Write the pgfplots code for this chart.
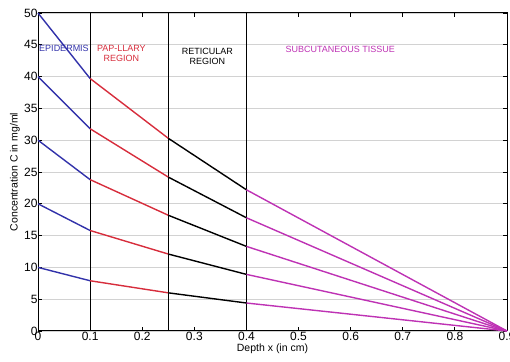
\documentclass[border=0pt]{standalone}
\usepackage{pgfplots}
\pgfplotsset{compat=1.18}
\usepackage{fontspec}
\setmainfont{Liberation Sans}
\definecolor{cblue}{RGB}{50,50,170}
\definecolor{cred}{RGB}{215,45,60}
\definecolor{cmag}{RGB}{190,50,180}
\begin{document}
\begin{tikzpicture}
\begin{axis}[
  scale only axis, width=469pt, height=318pt,
  xmin=0, xmax=0.9, ymin=0, ymax=50,
  xtick={0,0.1,...,0.9}, ytick={0,5,...,50},
  xticklabels={0,0.1,0.2,0.3,0.4,0.5,0.6,0.7,0.8,0.9},
  tick align=inside, major tick length=4pt,
  tick style={black, line width=0.8pt},
  ymajorgrids, grid style={gray!35, line width=0.9pt},
  axis line style={line width=1pt},
  /pgf/number format/assume math mode=true,
  ticklabel style={font=\fontsize{12}{13}\selectfont},
  xticklabel style={yshift=2pt},
  yticklabel style={xshift=3pt},
  xlabel={Depth x (in cm)}, ylabel={Concentration C in mg/ml},
  every axis x label/.style={at={(axis description cs:0.5,0)}, anchor=center, yshift=-18pt, font=\fontsize{10.5}{11}\selectfont},
  every axis y label/.style={at={(axis description cs:0,0.5)}, xshift=-23pt, rotate=90, anchor=center, font=\fontsize{10.5}{11}\selectfont},
  clip=false,
]
% region boundaries
\addplot[black, line width=1.1pt] coordinates {(0.1,0) (0.1,50)};
\addplot[black, line width=1.1pt] coordinates {(0.25,0) (0.25,50)};
\addplot[black, line width=1.1pt] coordinates {(0.4,0) (0.4,50)};
% epidermis
\addplot[cblue, line width=1.4pt] coordinates {(0,50) (0.1,39.7)};
\addplot[cblue, line width=1.4pt] coordinates {(0,40) (0.1,31.8)};
\addplot[cblue, line width=1.4pt] coordinates {(0,30) (0.1,23.8)};
\addplot[cblue, line width=1.4pt] coordinates {(0,20) (0.1,15.8)};
\addplot[cblue, line width=1.4pt] coordinates {(0,10) (0.1,7.9)};
% papillary
\addplot[cred, line width=1.4pt] coordinates {(0.1,39.7) (0.25,30.3)};
\addplot[cred, line width=1.4pt] coordinates {(0.1,31.8) (0.25,24.2)};
\addplot[cred, line width=1.4pt] coordinates {(0.1,23.8) (0.25,18.2)};
\addplot[cred, line width=1.4pt] coordinates {(0.1,15.8) (0.25,12.1)};
\addplot[cred, line width=1.4pt] coordinates {(0.1,7.9) (0.25,6.0)};
% reticular
\addplot[black, line width=1.4pt] coordinates {(0.25,30.3) (0.4,22.2)};
\addplot[black, line width=1.4pt] coordinates {(0.25,24.2) (0.4,17.8)};
\addplot[black, line width=1.4pt] coordinates {(0.25,18.2) (0.4,13.3)};
\addplot[black, line width=1.4pt] coordinates {(0.25,12.1) (0.4,8.9)};
\addplot[black, line width=1.4pt] coordinates {(0.25,6.0) (0.4,4.4)};
% subcutaneous
\addplot[cmag, line width=1.4pt] coordinates {(0.4,22.2) (0.9,0)};
\addplot[cmag, line width=1.4pt] coordinates {(0.4,17.8) (0.9,0)};
\addplot[cmag, line width=1.4pt] coordinates {(0.4,13.3) (0.9,0)};
\addplot[cmag, line width=1.4pt] coordinates {(0.4,8.9) (0.9,0)};
\addplot[cmag, line width=1.4pt] coordinates {(0.4,4.4) (0.9,0)};
% labels
\node[cblue, font=\fontsize{9}{10}\selectfont, anchor=west, inner sep=0pt] at (axis cs:0.002,44.4) {EPIDERMIS};
\node[cred, font=\fontsize{9}{10}\selectfont, align=center, inner sep=0pt] at (axis cs:0.16,43.6) {PAP-LLARY\\REGION};
\node[black, font=\fontsize{9}{10}\selectfont, align=center, inner sep=0pt] at (axis cs:0.325,43.2) {RETICULAR\\REGION};
\node[cmag, font=\fontsize{9}{10}\selectfont, inner sep=0pt] at (axis cs:0.58,44.3) {SUBCUTANEOUS TISSUE};
\end{axis}
\pgfresetboundingbox
\path (current axis.south west) ++(-38pt,-31pt) coordinate (bl);
\path (current axis.north east) ++(3pt,13pt) coordinate (tr);
\useasboundingbox (bl) rectangle (tr);
\end{tikzpicture}
\end{document}
